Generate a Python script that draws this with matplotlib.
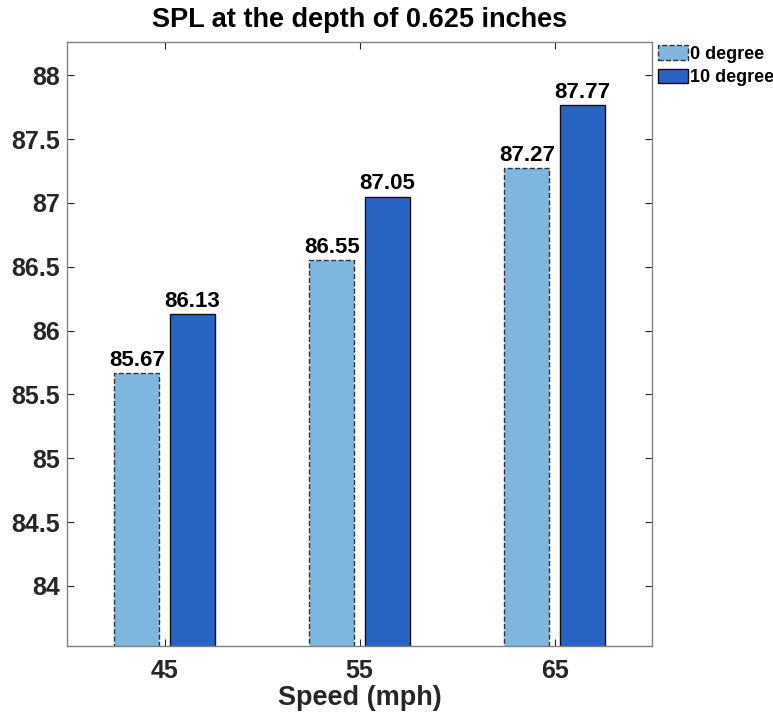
import numpy as np
import matplotlib
matplotlib.use('Agg')
import matplotlib.pyplot as plt

plt.rcParams['font.family'] = ['Liberation Sans', 'DejaVu Sans']

speeds = [45, 55, 65]
spl_0deg = [85.67, 86.55, 87.27]
spl_10deg = [86.13, 87.05, 87.77]
series_names = ['0 degree', '10 degree']
yticks = [84, 84.5, 85, 85.5, 86, 86.5, 87, 87.5, 88]

fig = plt.figure(figsize=(7.73, 7.19), dpi=100)
ax = fig.add_axes([67/773, 1-646/719, (652-67)/773, (646-42)/719])

x = np.array(speeds, dtype=float)
w = 2.3
off = 1.42
b1 = ax.bar(x - off, spl_0deg, w, color='#7eb6de', edgecolor='#333333',
            linestyle='--', linewidth=1.0, label=series_names[0])
b2 = ax.bar(x + off, spl_10deg, w, color='#2864c4', edgecolor='#111111',
            linewidth=1.0, label=series_names[1])

for bars, vals in [(b1, spl_0deg), (b2, spl_10deg)]:
    for r, v in zip(bars, vals):
        ax.text(r.get_x() + r.get_width()/2, v + 0.055, '%.2f' % v,
                ha='center', va='baseline', fontsize=16, fontweight='bold')

ax.set_xlim(40, 70)
ax.set_ylim(83.53, 88.26)
ax.set_xticks(speeds)
ax.set_yticks(yticks)
ax.set_yticklabels(['%g' % t for t in yticks])
ax.tick_params(direction='in', top=True, right=True, length=5,
               labelsize=18, color='#262626', labelcolor='#262626')
ax.tick_params(axis='x', pad=9)
ax.tick_params(axis='y', pad=5)
for lab in ax.get_xticklabels() + ax.get_yticklabels():
    lab.set_fontweight('bold')
for s in ax.spines.values():
    s.set_color('#808080')
    s.set_linewidth(1.0)

ax.set_xlabel('Speed (mph)', fontsize=19.5, fontweight='bold', color='#262626', labelpad=2)
ax.set_title('SPL at the depth of 0.625 inches', fontsize=19.5, fontweight='bold', pad=11)

ax.legend(loc='upper left', bbox_to_anchor=(658/773, 1-45/719), bbox_transform=fig.transFigure,
          frameon=False, prop={'size': 13, 'weight': 'bold'}, handlelength=1.66,
          handleheight=0.89, handletextpad=0.1, borderaxespad=0, borderpad=0,
          labelspacing=0.33)

fig.savefig('out.png', dpi=100)
